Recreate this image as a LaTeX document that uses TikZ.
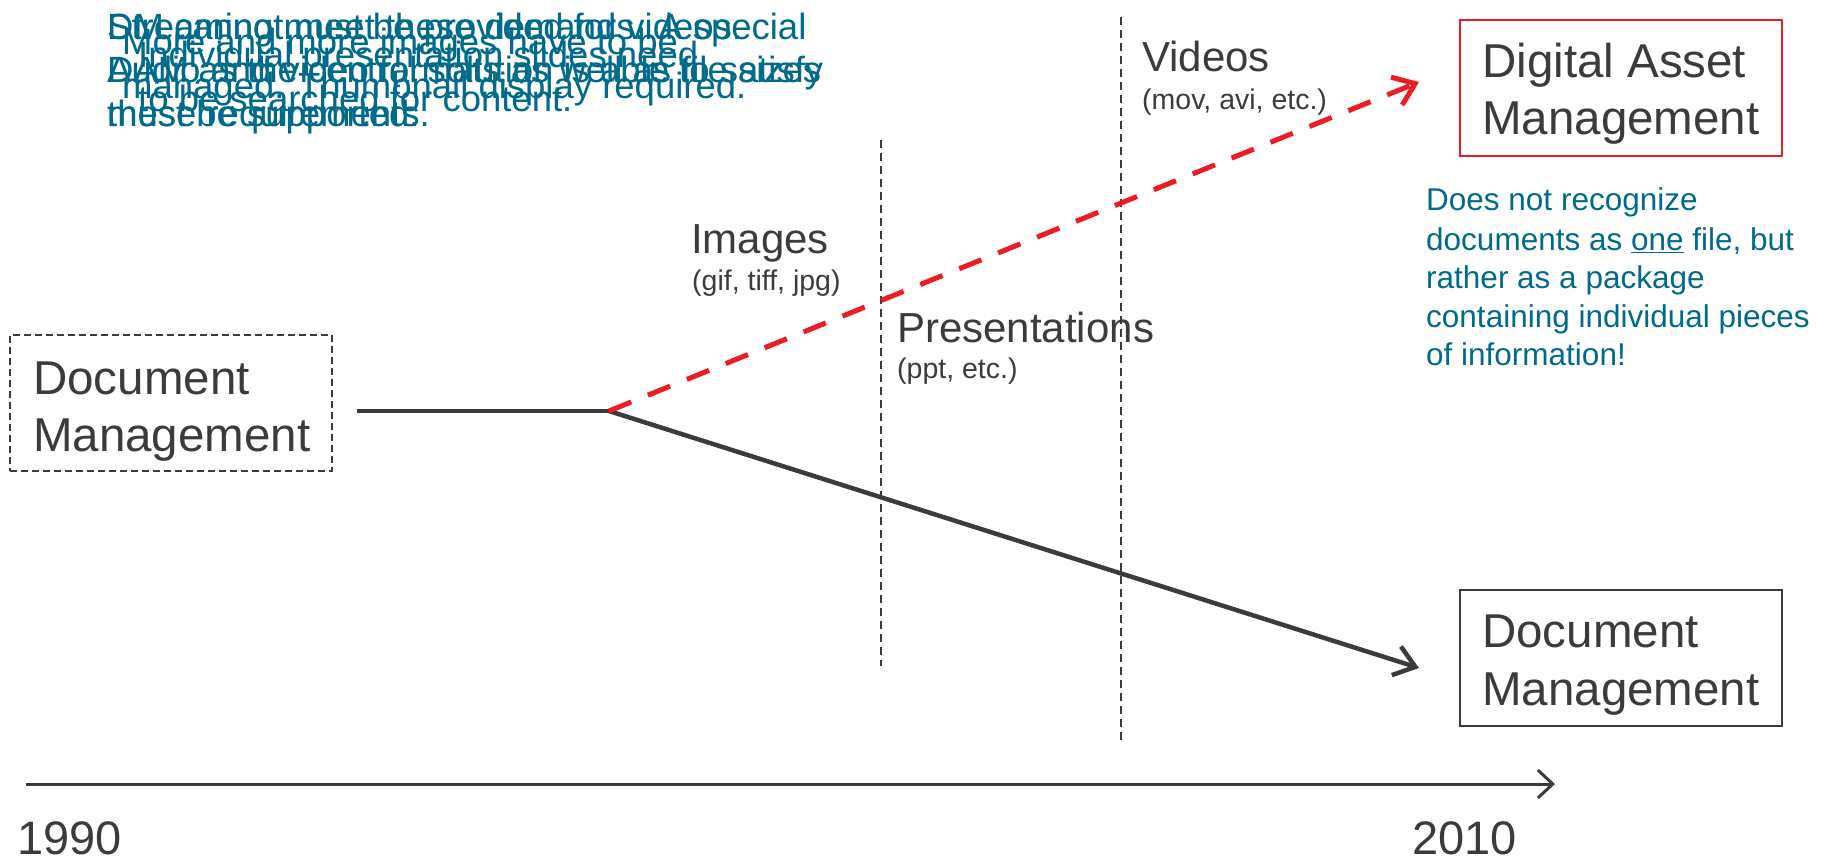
\documentclass[tikz,border=0pt]{standalone}
\usepackage{fontspec}
\setmainfont{Liberation Sans}
\usetikzlibrary{arrows.meta}
\definecolor{ink}{RGB}{59,59,61}
\definecolor{dred}{RGB}{237,28,36}
\definecolor{noteblue}{RGB}{0,106,140}
\begin{document}
\begin{tikzpicture}[x=1pt,y=-1pt,
  txt/.style={anchor=base west, inner sep=0pt, text=ink},
  big/.style={txt, font=\fontsize{47.5}{55}\selectfont},
  mid/.style={txt, font=\fontsize{42}{50}\selectfont},
  small/.style={txt, font=\fontsize{28.5}{34}\selectfont},
  note/.style={anchor=base west, inner sep=0pt, text=noteblue, font=\fontsize{31.5}{38}\selectfont},
  hint/.style={anchor=base west, inner sep=0pt, text=noteblue, font=\fontsize{36.5}{44}\selectfont},
  box/.style={line width=2pt, minimum width=322pt, minimum height=136pt, inner sep=0pt},
  divider/.style={draw=ink, line width=1.5pt, dash pattern=on 8pt off 5pt},
  flow/.style={draw=ink, line width=4.5pt},
  dflow/.style={draw=dred, line width=5pt, dash pattern=on 24pt off 18pt},
  barb/.style={-{Straight Barb[length=20pt,width=30pt]}}
]
\useasboundingbox (0,0) rectangle (1827,861);

% boxes
\node[box, draw=ink, dash pattern=on 7pt off 4pt, line width=1.5pt] (dmold) at (171,403) {};
\node[big] (dmoldA) at (33,394) {Document};
\node[big] (dmoldB) at (33,451) {Management};

\node[box, draw=dred] (dam) at (1620.5,88) {};
\node[big] (damA) at (1482,78) {Digital Asset};
\node[big] (damB) at (1482,135) {Management};

\node[box, draw=ink] (dmnew) at (1620.5,658) {};
\node[big] (dmnewA) at (1482,647) {Document};
\node[big] (dmnewB) at (1482,705) {Management};

% dividers
\coordinate (d1t) at (881,140);
\coordinate (d1b) at (881,666);
\coordinate (d2t) at (1121,17);
\coordinate (d2b) at (1121,741);
\draw[divider] (d1t) -- (d1b);
\draw[divider] (d2t) -- (d2b);

% flows
\coordinate (start) at (357,411);
\coordinate (fork) at (609,411);
\coordinate (endA) at (1419,82);
\coordinate (endB) at (1419,668);
\draw[flow] (start) -- (fork);
\draw[flow, barb] (fork) -- (endB);
\draw[dflow, barb] (fork) -- (endA);

% timeline
\coordinate (t0) at (26,784);
\coordinate (t1) at (1555,784);
\draw[draw=ink, line width=3pt, -{Straight Barb[length=15pt,width=28pt]}] (t0) -- (t1);
\node[txt, font=\fontsize{47}{55}\selectfont] (y1990) at (17,854) {1990};
\node[txt, font=\fontsize{47}{55}\selectfont] (y2010) at (1412,854) {2010};

% media labels
\node[mid] (img) at (691,253) {Images};
\node[small] (imgx) at (692,290) {(gif, tiff, jpg)};
\node[mid] (pres) at (897,342) {Presentations};
\node[small] (presx) at (897,378) {(ppt, etc.)};
\node[mid] (vid) at (1142,72) {Videos};
\node[small] (vidx) at (1142,110) {(mov, avi, etc.)};

% DAM note
\node[note] (n1) at (1426,210) {Does not recognize};
\node[note] (n2) at (1426,250) {documents as \underline{one} file, but};
\node[note] (n3) at (1426,288) {rather as a package};
\node[note] (n4) at (1426,327) {containing individual pieces};
\node[note] (n5) at (1426,365) {of information!};

% overlapping hint texts (top left)
\node[hint] (a1) at (107,40) {DM cannot meet these demands. A special};
\node[hint] (a2) at (107,83) {DAM as the central solution is able to satisfy};
\node[hint] (a3) at (107,127) {these requirements.};
\node[hint] (d1) at (107,40) {Streaming must be provided for videos.};
\node[hint] (d2) at (107,83) {Audio and video formats as well as file sizes};
\node[hint] (d3) at (107,127) {must be supported.};
\node[hint] (b1) at (122,55) {More and more images have to be};
\node[hint] (b2) at (122,99) {managed. Thumbnail display required.};
\node[hint] (c1) at (138,68) {Individual presentation slides need};
\node[hint] (c2) at (138,112) {to be searched for content.};
\end{tikzpicture}
\end{document}
